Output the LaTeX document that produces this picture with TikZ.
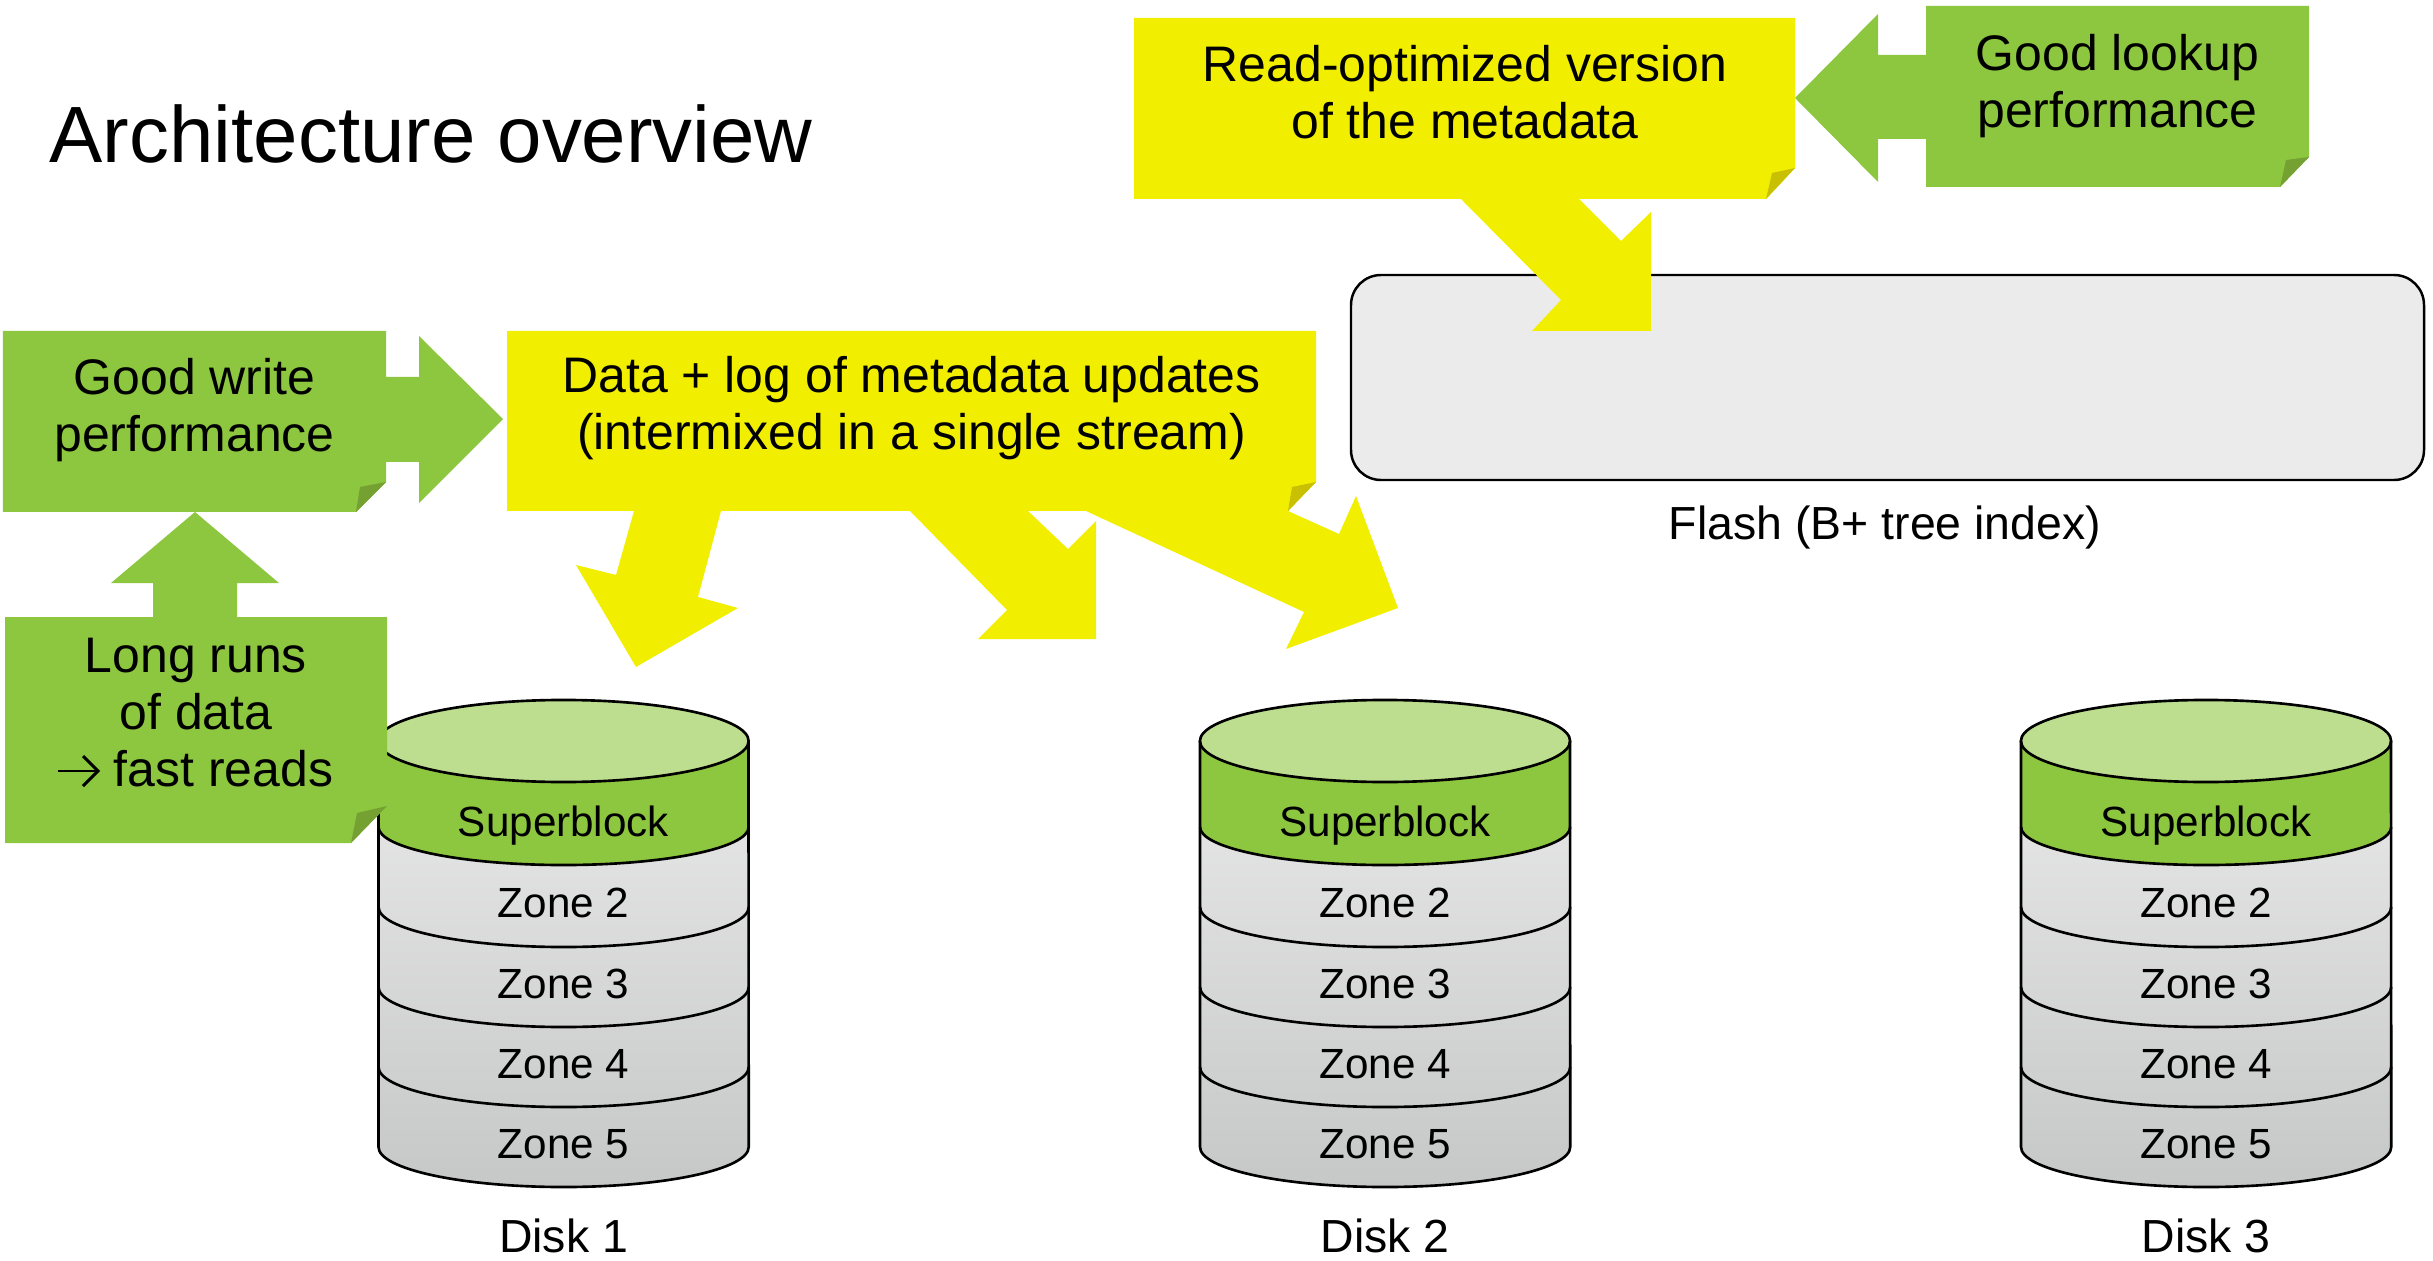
\documentclass[tikz,border=0pt]{standalone}
\usepackage{fontspec}
\setmainfont{Liberation Sans}

\definecolor{calloutgreen}{RGB}{141,198,63}
\definecolor{foldgreen}{RGB}{117,160,50}
\definecolor{calloutyellow}{RGB}{242,238,0}
\definecolor{foldyellow}{RGB}{200,192,0}
\definecolor{disktop}{RGB}{189,222,143}
\definecolor{zonetop}{RGB}{234,234,234}
\definecolor{zonebottom}{RGB}{198,199,199}
\definecolor{flashgray}{RGB}{235,235,235}

\tikzset{
  greencallout/.style={fill=calloutgreen, draw=none},
  greenfold/.style={fill=foldgreen, draw=none},
  yellowcallout/.style={fill=calloutyellow, draw=none},
  yellowfold/.style={fill=foldyellow, draw=none},
  diskline/.style={draw=black, line width=0.75pt},
  textarrow/.style={draw=black, line width=0.85pt},
  callouttext/.style={align=center, inner sep=0pt, font=\fontsize{14.2}{16.2}\selectfont},
  zonetext/.style={inner sep=0pt, anchor=base, font=\fontsize{12}{14}\selectfont},
  labeltext/.style={inner sep=0pt, anchor=base, font=\fontsize{13.2}{15}\selectfont},
  titletext/.style={inner sep=0pt, anchor=base west, font=\fontsize{22.7}{27}\selectfont},
}

% A stacked disk: #1 = centre x, #2 = disk number
\newcommand{\storagedisk}[2]{%
  \shade[top color=zonetop, bottom color=zonebottom]
    (#1-185,-741) -- (#1-185,-1147)
    arc[start angle=180, end angle=360, x radius=1.85cm, y radius=0.4cm]
    -- (#1+185,-741) -- cycle;
  \fill[calloutgreen]
    (#1-185,-741) -- (#1-185,-827)
    arc[start angle=180, end angle=360, x radius=1.85cm, y radius=0.38cm]
    -- (#1+185,-741) -- cycle;
  \draw[diskline, fill=disktop] (#1,-741) ellipse[x radius=1.85cm, y radius=0.41cm];
  \draw[diskline] (#1-185,-827)
    arc[start angle=180, end angle=360, x radius=1.85cm, y radius=0.38cm];
  \foreach \yy in {907,987,1067}{
    \draw[diskline] (#1-185,-\yy)
      arc[start angle=180, end angle=360, x radius=1.85cm, y radius=0.4cm];
  }
  \draw[diskline] (#1-185,-741) -- (#1-185,-1147)
    arc[start angle=180, end angle=360, x radius=1.85cm, y radius=0.4cm]
    -- (#1+185,-741);
  \node[zonetext] (disk#2-sb) at (#1,-836) {Superblock};
  \node[zonetext] (disk#2-z2) at (#1,-917) {Zone 2};
  \node[zonetext] (disk#2-z3) at (#1,-998) {Zone 3};
  \node[zonetext] (disk#2-z4) at (#1,-1078) {Zone 4};
  \node[zonetext] (disk#2-z5) at (#1,-1158) {Zone 5};
  \node[labeltext] (disk#2-label) at (#1,-1252) {Disk #2};
}

\begin{document}
\begin{tikzpicture}[x=0.01cm, y=0.01cm]
\useasboundingbox (0,0) rectangle (2433,-1261);

% title
\node[titletext] (title) at (49,-163) {Architecture overview};

% flash index
\draw[fill=flashgray, draw=black, line width=0.7pt, rounded corners=0.3cm]
  (1351,-275) rectangle (2424,-480);
\node[labeltext] (flashlabel) at (1885,-540) {Flash (B+ tree index)};

% disks
\storagedisk{563.5}{1}
\storagedisk{1385}{2}
\storagedisk{2206}{3}

% read-optimized metadata callout, pointing into the flash box
\fill[yellowcallout] (1134,-18) -- (1795,-18) -- (1795,-168) -- (1766,-199)
  -- (1579,-199) -- (1621,-241) -- (1651,-212) -- (1651,-331) -- (1532,-331)
  -- (1561,-300) -- (1461,-199) -- (1134,-199) -- cycle;
\fill[yellowfold] (1766,-199) -- (1772,-173) -- (1795,-168) -- cycle;
\node[callouttext] (readopt) at (1465,-99)
  {\strut Read-optimized version\\ of the metadata\strut};

% good lookup callout, pointing left
\fill[greencallout] (1926,-6) -- (2309,-6) -- (2309,-157) -- (2280,-187)
  -- (1926,-187) -- (1926,-139) -- (1878,-139) -- (1878,-182) -- (1795,-98)
  -- (1878,-14) -- (1878,-55) -- (1926,-55) -- cycle;
\fill[greenfold] (2280,-187) -- (2286,-160) -- (2309,-157) -- cycle;
\node[callouttext] (lookup) at (2117.5,-87.6)
  {\strut Good lookup\\ performance\strut};

% data + log callout with three arrows down to the disks
\fill[yellowcallout] (507,-331) -- (1316,-331) -- (1316,-482) -- (1288,-511)
  -- (1339,-534) -- (1356,-496) -- (1398,-608) -- (1286,-649) -- (1304,-612)
  -- (1086,-511) -- (1028,-511) -- (1068,-549) -- (1096,-521) -- (1096,-639)
  -- (978,-639) -- (1007,-610) -- (910,-511) -- (721,-511) -- (698,-597)
  -- (738,-608) -- (636,-667) -- (576,-565) -- (616,-575) -- (634,-511)
  -- (507,-511) -- cycle;
\fill[yellowfold] (1288,-511) -- (1292,-487) -- (1316,-482) -- cycle;
\node[callouttext] (datalog) at (911.5,-410)
  {\strut Data + log of metadata updates\\ (intermixed in a single stream)\strut};

% good write callout, pointing right
\fill[greencallout] (3,-331) -- (386,-331) -- (386,-377) -- (419,-377)
  -- (419,-336) -- (503,-419) -- (419,-503) -- (419,-462) -- (386,-462)
  -- (386,-482) -- (356,-512) -- (3,-512) -- cycle;
\fill[greenfold] (356,-512) -- (360,-487) -- (386,-482) -- cycle;
\node[callouttext] (goodwrite) at (194.5,-411.6)
  {\strut Good write\\ performance\strut};

% long runs callout, pointing up
\fill[greencallout] (5,-617) -- (153,-617) -- (153,-583) -- (111,-583)
  -- (195,-512) -- (279,-583) -- (237,-583) -- (237,-617) -- (387,-617)
  -- (387,-806) -- (351,-843) -- (5,-843) -- cycle;
\fill[greenfold] (351,-843) -- (357,-813) -- (387,-806) -- cycle;
\node[callouttext] (longruns) at (196,-718)
  {\strut Long runs\\ of data\\ \rule{0.82em}{0pt} fast reads\strut};
% the implication arrow set in front of "fast reads"
\coordinate (implfrom) at (58,-771);
\coordinate (implto) at (98,-771);
\draw[textarrow] (implfrom) -- (implto);
\draw[textarrow, line join=miter] ([shift={(-15,15)}]implto) -- (implto) -- ([shift={(-15,-15)}]implto);

\end{tikzpicture}
\end{document}
